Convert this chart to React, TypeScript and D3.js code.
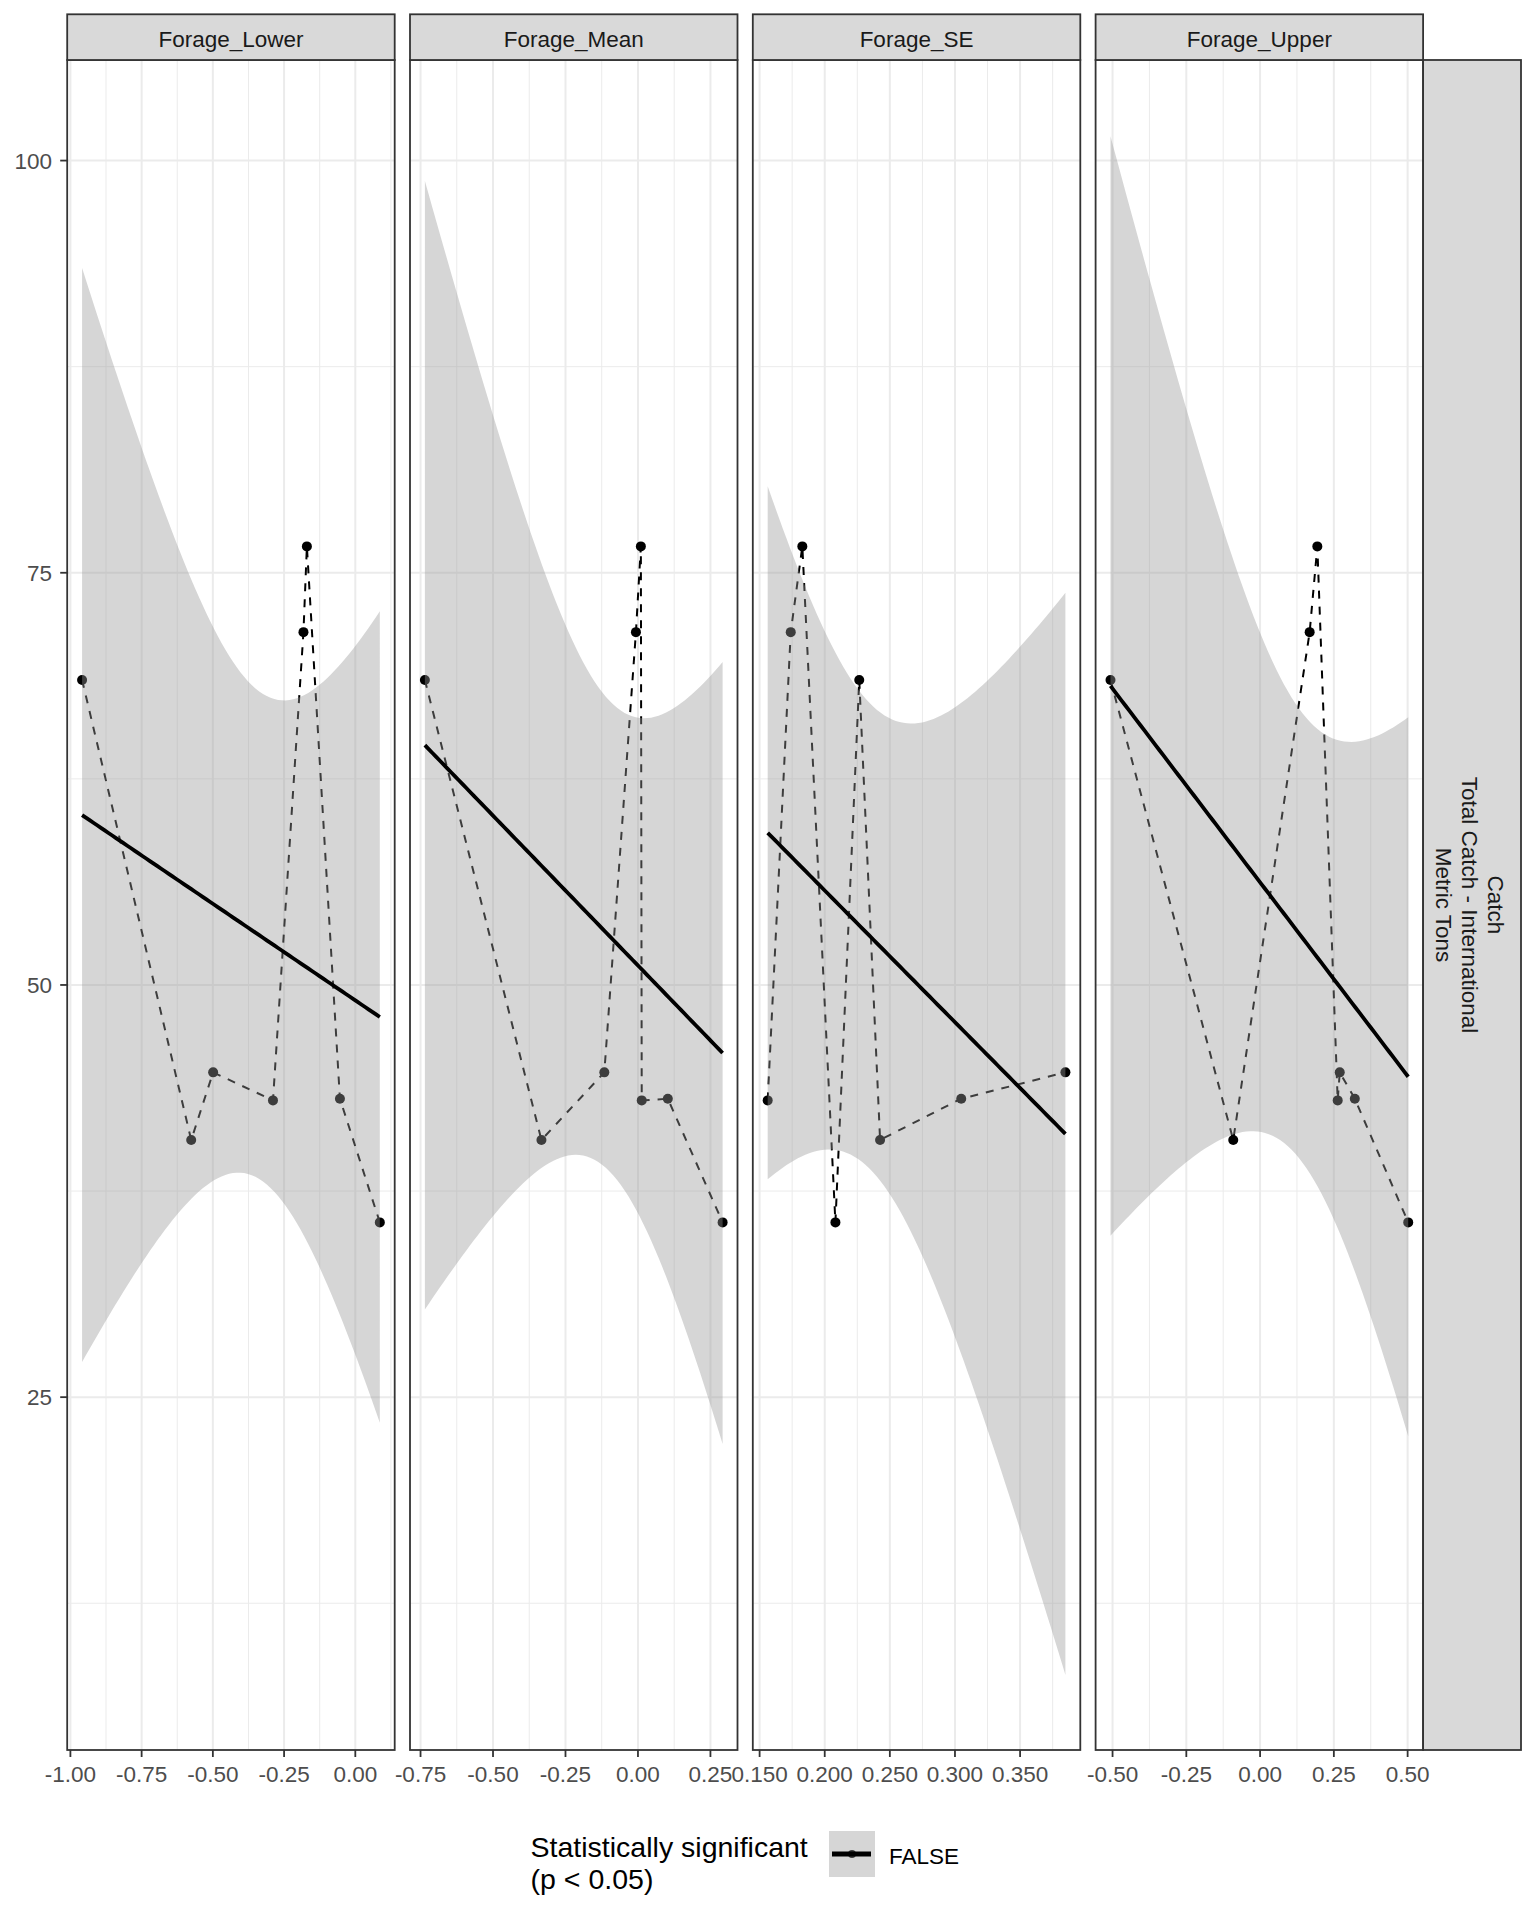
import React from 'react';
import * as d3 from 'd3';

// facet names and shared response values (Catch, metric tons)
const facets = ['Forage_Lower', 'Forage_Mean', 'Forage_SE', 'Forage_Upper'];
const catchTons = [68.5, 40.6, 44.7, 43.0, 71.4, 76.6, 43.1, 35.6];

// predictor values for each facet, same observation order as catchTons
const forageLower = [-0.959, -0.576, -0.499, -0.289, -0.182, -0.170, -0.054, 0.086];
const forageMean = [-0.735, -0.333, -0.116, 0.013, -0.007, 0.010, 0.103, 0.292];
const forageSE = [0.2265, 0.2425, 0.3848, 0.1562, 0.1739, 0.1828, 0.3048, 0.2082];
const forageUpper = [-0.507, -0.091, 0.270, 0.263, 0.168, 0.194, 0.321, 0.502];

const xTicks = [
  [-1, -0.75, -0.5, -0.25, 0],
  [-0.75, -0.5, -0.25, 0, 0.25],
  [0.15, 0.2, 0.25, 0.3, 0.35],
  [-0.5, -0.25, 0, 0.25, 0.5],
];
const xTickLabels = [
  ['-1.00', '-0.75', '-0.50', '-0.25', '0.00'],
  ['-0.75', '-0.50', '-0.25', '0.00', '0.25'],
  ['0.150', '0.200', '0.250', '0.300', '0.350'],
  ['-0.50', '-0.25', '0.00', '0.25', '0.50'],
];
const yTicks = [25, 50, 75, 100];
const yTickLabels = ['25', '50', '75', '100'];
const yDomain = [3.6, 106.1];

const rowLabel = ['Catch', 'Total Catch - International', 'Metric Tons'];
const legendTitle = ['Statistically significant', '(p < 0.05)'];
const legendLabels = ['FALSE'];

const T_CRIT = 2.446912; // t(0.975, df = 6)
const FONT = '"Liberation Sans", Arial, sans-serif';

function fitLm(xs: number[], ys: number[]) {
  const n = xs.length;
  const mx = d3.mean(xs)!, my = d3.mean(ys)!;
  let sxx = 0, sxy = 0;
  xs.forEach((x, i) => { sxx += (x - mx) ** 2; sxy += (x - mx) * (ys[i] - my); });
  const b = sxy / sxx, a = my - b * mx;
  const sse = d3.sum(xs, (x, i) => (ys[i] - (a + b * x)) ** 2);
  const s = Math.sqrt(sse / (n - 2));
  const [lo, hi] = d3.extent(xs) as [number, number];
  return d3.range(80).map(i => {
    const x = lo + (hi - lo) * i / 79;
    const fit = a + b * x;
    const se = s * Math.sqrt(1 / n + (x - mx) ** 2 / sxx);
    return { x, fit, lo: fit - T_CRIT * se, hi: fit + T_CRIT * se };
  });
}

function minorTicks(ticks: number[], dom: number[]) {
  const step = ticks[1] - ticks[0];
  const out: number[] = [];
  for (let v = ticks[0] - step / 2; v <= ticks[ticks.length - 1] + step; v += step) {
    if (v >= dom[0] && v <= dom[1]) out.push(v);
  }
  return out;
}

export default function App() {
  const width = 1536, height = 1920;
  const panelTop = 60, panelBottom = 1750, stripTop = 14.3;
  const left0 = 67.2, panelW = 327.5, gap = 15.3;
  const stripRight = 1521;
  const xsByFacet = [forageLower, forageMean, forageSE, forageUpper];

  const y = d3.scaleLinear().domain(yDomain).range([panelBottom, panelTop]);
  const yMinor = minorTicks(yTicks, yDomain);

  const panels = facets.map((name, k) => {
    const xs = xsByFacet[k];
    const [lo, hi] = d3.extent(xs) as [number, number];
    const pad = (hi - lo) * 0.05;
    const px = left0 + k * (panelW + gap);
    const x = d3.scaleLinear().domain([lo - pad, hi + pad]).range([px, px + panelW]);
    const pts = xs.map((v, i) => ({ x: v, y: catchTons[i] })).sort((a, b) => a.x - b.x);
    const fit = fitLm(xs, catchTons);
    return { name, k, px, x, pts, fit, minor: minorTicks(xTicks[k], x.domain()) };
  });

  const lastRight = panels[3].px + panelW;

  return (
    <svg width={width} height={height} style={{ position: 'absolute', left: 0, top: 0, background: '#fff' }}
      fontFamily={FONT}>
      <rect width={width} height={height} fill="#fff" />
      <defs>
        {panels.map(p => (
          <clipPath id={`clip${p.k}`} key={p.k}>
            <rect x={p.px} y={panelTop} width={panelW} height={panelBottom - panelTop} />
          </clipPath>
        ))}
      </defs>
      {panels.map(p => {
        const line = d3.line<{ x: number; y: number }>().x(d => p.x(d.x)).y(d => y(d.y));
        const area = d3.area<{ x: number; lo: number; hi: number }>()
          .x(d => p.x(d.x)).y0(d => y(d.lo)).y1(d => y(d.hi));
        const fitLine = d3.line<{ x: number; fit: number }>().x(d => p.x(d.x)).y(d => y(d.fit));
        return (
          <g key={p.name}>
            <g clipPath={`url(#clip${p.k})`}>
              {yMinor.map(v => (
                <line key={'ym' + v} x1={p.px} x2={p.px + panelW} y1={y(v)} y2={y(v)} stroke="#EBEBEB" strokeWidth={1} />
              ))}
              {p.minor.map(v => (
                <line key={'xm' + v} x1={p.x(v)} x2={p.x(v)} y1={panelTop} y2={panelBottom} stroke="#EBEBEB" strokeWidth={1} />
              ))}
              {yTicks.map(v => (
                <line key={'yM' + v} x1={p.px} x2={p.px + panelW} y1={y(v)} y2={y(v)} stroke="#EBEBEB" strokeWidth={2} />
              ))}
              {xTicks[p.k].map(v => (
                <line key={'xM' + v} x1={p.x(v)} x2={p.x(v)} y1={panelTop} y2={panelBottom} stroke="#EBEBEB" strokeWidth={2} />
              ))}
              {p.pts.map((d, i) => (
                <circle key={i} cx={p.x(d.x)} cy={y(d.y)} r={5} fill="#000" />
              ))}
              <path d={line(p.pts) || ''} fill="none" stroke="#000" strokeWidth={2} strokeDasharray="8 8" />
              <path d={area(p.fit) || ''} fill="#999999" fillOpacity={0.4} />
              <path d={fitLine(p.fit) || ''} fill="none" stroke="#000" strokeWidth={3.8} />
            </g>
            <rect x={p.px} y={panelTop} width={panelW} height={panelBottom - panelTop} fill="none" stroke="#333" strokeWidth={1.8} />
            {/* strip */}
            <rect x={p.px} y={stripTop} width={panelW} height={panelTop - stripTop} fill="#D9D9D9" stroke="#333" strokeWidth={1.8} />
            <text x={p.px + panelW / 2} y={stripTop + 32.5} textAnchor="middle" fontSize={22.5} fill="#1A1A1A">{p.name}</text>
            {/* x axis */}
            {xTicks[p.k].map((v, i) => (
              <g key={'xt' + v}>
                <line x1={p.x(v)} x2={p.x(v)} y1={panelBottom} y2={panelBottom + 7} stroke="#333" strokeWidth={1.8} />
                <text x={p.x(v)} y={1782} textAnchor="middle" fontSize={22.5} fill="#4D4D4D">{xTickLabels[p.k][i]}</text>
              </g>
            ))}
          </g>
        );
      })}
      {/* y axis */}
      {yTicks.map((v, i) => (
        <g key={'yt' + v}>
          <line x1={left0 - 7} x2={left0} y1={y(v)} y2={y(v)} stroke="#333" strokeWidth={1.8} />
          <text x={52} y={y(v)} dy="0.36em" textAnchor="end" fontSize={22.5} fill="#4D4D4D">{yTickLabels[i]}</text>
        </g>
      ))}
      {/* right strip */}
      <rect x={lastRight} y={panelTop} width={stripRight - lastRight} height={panelBottom - panelTop} fill="#D9D9D9" stroke="#333" strokeWidth={1.8} />
      <text transform={`translate(1462,${(panelTop + panelBottom) / 2}) rotate(90)`} textAnchor="middle" fontSize={22.5} fill="#1A1A1A">
        {rowLabel.map((t, i) => (
          <tspan key={i} x={0} y={(i - 1) * 26}>{t}</tspan>
        ))}
      </text>
      {/* legend */}
      <text fontSize={28.5} fill="#000">
        {legendTitle.map((t, i) => (
          <tspan key={i} x={530.6} y={1857 + i * 32}>{t}</tspan>
        ))}
      </text>
      <rect x={829} y={1831} width={46} height={46} fill="#fff" />
      <circle cx={852} cy={1854} r={4} fill="#000" />
      <rect x={829} y={1831} width={46} height={46} fill="#999999" fillOpacity={0.4} />
      <line x1={832} x2={871} y1={1854} y2={1854} stroke="#000" strokeWidth={5} />
      <text x={889} y={1864} fontSize={22.5} fill="#000">{legendLabels[0]}</text>
    </svg>
  );
}
